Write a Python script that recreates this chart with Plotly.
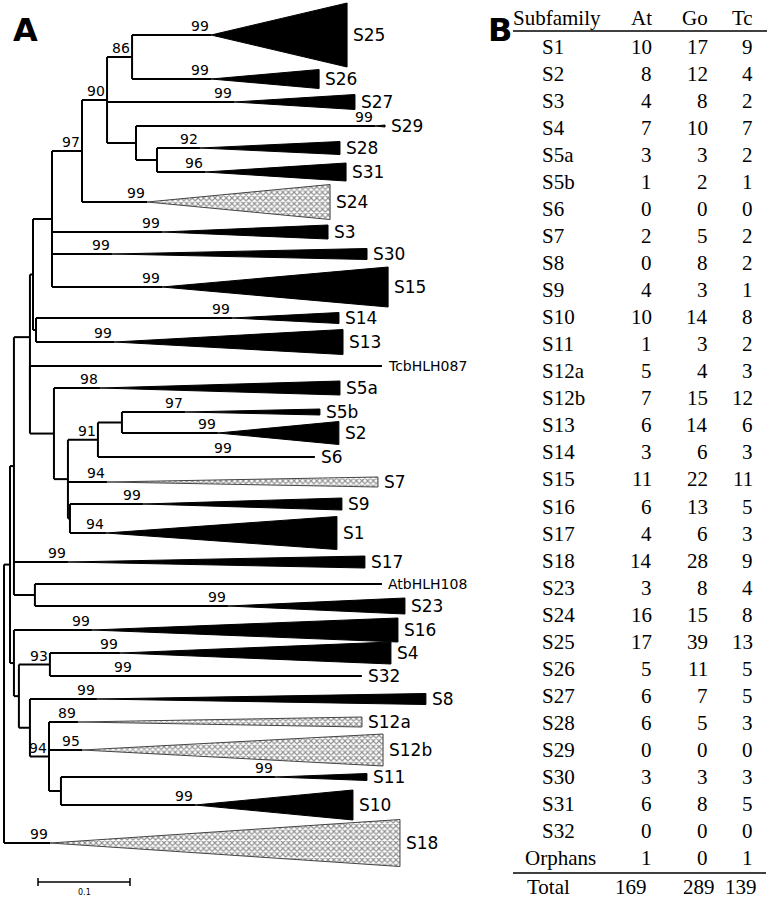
import plotly.graph_objects as go

W, H = 771, 899
PX_PER_UNIT = 920.0   # the 0.1 scale bar spans 92 px
ROOT_PX = 4.0

# ---- panel A: tree of bHLH subfamilies ----
# internal nodes; branch lengths in substitutions per site
node_names = ["root", "R", "J", "I", "G", "A", "T", "U", "V", "W", "X", "H", "I2",
              "B", "C", "D", "F", "E", "Q", "P", "O", "K", "N", "L", "M"]
node_parent = [None, "root", "R", "J", "I", "G", "A", "T", "U", "U", "W", "G", "I",
               "I2", "B", "C", "D", "C", "J", "R", "P", "O", "O", "N", "L"]
node_branch = [0, 0.0065, 0.0043, 0.0174, 0.0033, 0.0207, 0.0326, 0.0272, 0.0272, 0.0315,
               0.0228, 0.0033, 0.0, 0.0261, 0.0152, 0.0326, 0.0261, 0.0022, 0.0228, 0.0043,
               0.0054, 0.0337, 0.0120, 0.0207, 0.0130]
node_support = {"V": 86, "U": 90, "T": 97, "D": 91, "K": 93, "L": 94}

# collapsed subfamilies, top to bottom
leaf_names = ["S25", "S26", "S27", "S29", "S28", "S31", "S24", "S3", "S30", "S15", "S14",
              "S13", "TcbHLH087", "S5a", "S5b", "S2", "S6", "S7", "S9", "S1", "S17",
              "AtbHLH108", "S23", "S16", "S4", "S32", "S8", "S12a", "S12b", "S11", "S10", "S18"]
leaf_parent = ["V", "V", "U", "W", "X", "X", "T", "A", "A", "A", "H", "H", "I2", "B", "F",
               "F", "D", "C", "E", "E", "J", "Q", "Q", "P", "K", "K", "N", "L", "L", "M", "M",
               "root"]
leaf_pos = [35, 79, 102, 126, 148, 172, 202, 232, 254, 287, 318, 342, 366, 388, 412, 433,
            457, 482, 504, 533, 562, 584, 606, 630, 653, 676, 699, 722, 750, 777, 805, 843]
leaf_stem = [0.0859, 0.0859, 0.1380, 0.2598, 0.0467, 0.0522, 0.0707, 0.1196, 0.0652, 0.1196,
             0.2130, 0.0848, 0.3826, 0.0500, 0.0685, 0.1043, 0.1478, 0.0424, 0.0793, 0.0391,
             0.0587, 0.3772, 0.2098, 0.0848, 0.0761, 0.0913, 0.0728, 0.0315, 0.0359, 0.2326,
             0.1457, 0.0500]
leaf_depth = [0.1478, 0.1174, 0.1315, 0.0109, 0.1522, 0.1533, 0.1989, 0.1804, 0.2772, 0.2457,
              0.1163, 0.2489, 0.0, 0.2609, 0.1467, 0.1315, 0.0880, 0.2946, 0.2163, 0.2511,
              0.3228, 0.0, 0.1924, 0.3326, 0.2946, 0.2478, 0.3576, 0.3087, 0.3272, 0.1000,
              0.1717, 0.3804]
leaf_half = [32, 9.5, 7.5, 1, 6.5, 9, 17.5, 7, 5.5, 20, 5.5, 12.5, 0, 7, 3, 11.5, 0, 5, 6,
             16.5, 6, 0, 8, 12, 11, 0, 5.5, 5, 16, 3.5, 15, 23.5]
leaf_style = ["solid", "solid", "solid", "solid", "solid", "solid", "hatch", "solid", "solid",
              "solid", "solid", "solid", "line", "solid", "solid", "solid", "line", "hatch",
              "solid", "solid", "solid", "line", "solid", "solid", "solid", "line", "solid",
              "hatch", "hatch", "solid", "solid", "hatch"]
leaf_support = [99, 99, 99, 99, 92, 96, 99, 99, 99, 99, 99, 99, None, 98, 97, 99, 99, 94, 99,
                94, 99, None, 99, 99, 99, 99, 99, 89, 95, 99, 99, 99]

# ---- panel B: gene counts per subfamily ----
subfamilies = ["S1", "S2", "S3", "S4", "S5a", "S5b", "S6", "S7", "S8", "S9", "S10", "S11",
               "S12a", "S12b", "S13", "S14", "S15", "S16", "S17", "S18", "S23", "S24", "S25",
               "S26", "S27", "S28", "S29", "S30", "S31", "S32", "Orphans"]
count_at = [10, 8, 4, 7, 3, 1, 0, 2, 0, 4, 10, 1, 5, 7, 6, 3, 11, 6, 4, 14, 3, 16, 17, 5, 6,
            6, 0, 3, 6, 0, 1]
count_go = [17, 12, 8, 10, 3, 2, 0, 5, 8, 3, 14, 3, 4, 15, 14, 6, 22, 13, 6, 28, 8, 15, 39,
            11, 7, 5, 0, 3, 8, 0, 0]
count_tc = [9, 4, 2, 7, 2, 1, 0, 2, 2, 1, 8, 2, 3, 12, 6, 3, 11, 5, 3, 9, 4, 8, 13, 5, 5, 3,
            0, 3, 5, 0, 1]

# ---- tree layout ----
parent_of = dict(zip(node_names, node_parent))
node_x = {}
for name, par, bl in zip(node_names, node_parent, node_branch):
    node_x[name] = 0.0 if par is None else node_x[par] + bl

children = {n: [] for n in node_names}
for n, p in zip(node_names, node_parent):
    if p is not None:
        children[p].append(("node", n))
for i, p in enumerate(leaf_parent):
    children[p].append(("leaf", i))

node_y = {}


def get_y(kind, key):
    if kind == "leaf":
        return leaf_pos[key]
    if key not in node_y:
        ys = [get_y(k, c) for k, c in children[key]]
        node_y[key] = (min(ys) + max(ys)) / 2
    return node_y[key]


for n in node_names:
    get_y("node", n)

lx, ly = [], []
for n in node_names:
    ys = [get_y(k, c) for k, c in children[n]]
    lx += [node_x[n], node_x[n], None]
    ly += [min(ys), max(ys), None]
    p = parent_of[n]
    if p is not None:
        lx += [node_x[p], node_x[n], None]
        ly += [node_y[n], node_y[n], None]

solid_x, solid_y, hatch_x, hatch_y = [], [], [], []
leaf_tip = []
leaf_apex = []
for i, name in enumerate(leaf_names):
    x0 = node_x[leaf_parent[i]]
    apex = x0 + leaf_stem[i]
    tip = apex + leaf_depth[i]
    y = leaf_pos[i]
    leaf_apex.append(apex)
    leaf_tip.append(tip)
    if leaf_half[i] == 0:
        lx += [x0, tip, None]
        ly += [y, y, None]
        continue
    lx += [x0, apex, None]
    ly += [y, y, None]
    h = leaf_half[i]
    px_ = [apex, tip, tip, apex, None]
    py_ = [y, y - h, y + h, y, None]
    if leaf_style[i] == "hatch":
        hatch_x += px_
        hatch_y += py_
    else:
        solid_x += px_
        solid_y += py_

fig = go.Figure()
fig.add_trace(go.Scatter(x=lx, y=ly, mode="lines", line=dict(color="black", width=2),
                         hoverinfo="skip", showlegend=False))
fig.add_trace(go.Scatter(x=solid_x, y=solid_y, mode="lines", fill="toself", fillcolor="black",
                         line=dict(color="black", width=1), hoverinfo="skip", showlegend=False))
fig.add_trace(go.Scatter(x=hatch_x, y=hatch_y, mode="lines", fill="toself",
                         fillpattern=dict(shape="x", size=4, solidity=0.5, fgcolor="#222222",
                                          bgcolor="white"),
                         line=dict(color="#444444", width=1), hoverinfo="skip",
                         showlegend=False))

# scale bar
sb0 = (38 - ROOT_PX) / PX_PER_UNIT
sb_len = 0.1
fig.add_trace(go.Scatter(x=[sb0, sb0 + sb_len, None, sb0, sb0, None, sb0 + sb_len, sb0 + sb_len],
                         y=[882, 882, None, 878, 886, None, 878, 886], mode="lines",
                         line=dict(color="black", width=1.5), hoverinfo="skip",
                         showlegend=False))

ann = []
sans = "DejaVu Sans, Verdana, sans-serif"
serif = "Liberation Serif, Times New Roman, serif"

for n, s in node_support.items():
    ann.append(dict(x=node_x[n], y=node_y[n], text=str(s), xshift=-11, yshift=9,
                    xanchor="center", yanchor="middle", showarrow=False,
                    font=dict(family=sans, size=14, color="black")))
for i, name in enumerate(leaf_names):
    if leaf_support[i] is not None:
        ann.append(dict(x=leaf_apex[i], y=leaf_pos[i], text=str(leaf_support[i]), xshift=-11,
                        yshift=9, xanchor="center", yanchor="middle", showarrow=False,
                        font=dict(family=sans, size=14, color="black")))
    small = name.endswith("HLH087") or name.endswith("HLH108")
    ann.append(dict(x=leaf_tip[i], y=leaf_pos[i], text=name, xanchor="left", yanchor="middle",
                    xshift=4, showarrow=False,
                    font=dict(family=sans, size=14 if small else 17, color="black")))
ann.append(dict(x=sb0 + sb_len / 2, y=892, text="0.1", xanchor="center", yanchor="middle",
                showarrow=False, font=dict(family=sans, size=8, color="black")))


def px(x):
    return x / W


def py(y):
    return 1 - y / H


for label, xc in [("A", 25), ("B", 500)]:
    ann.append(dict(xref="paper", yref="paper", x=px(xc), y=py(30), text="<b>%s</b>" % label,
                    xanchor="center", yanchor="middle", showarrow=False,
                    font=dict(family=sans, size=32, color="black")))

tfont = dict(family=serif, size=21, color="black")
header_y = 18
for text, x, anchor in [("Subfamily", 511, "left"), ("At", 654, "right"),
                        ("Go", 710, "right"), ("Tc", 755, "right")]:
    ann.append(dict(xref="paper", yref="paper", x=px(x), y=py(header_y), text=text,
                    xanchor=anchor, yanchor="middle", showarrow=False, font=tfont))

row0, row_step = 47, 27.03
for r, name in enumerate(subfamilies):
    y = py(row0 + r * row_step)
    left = 523 if name == "Orphans" else 540
    ann.append(dict(xref="paper", yref="paper", x=px(left), y=y, text=name, xanchor="left",
                    yanchor="middle", showarrow=False, font=tfont))
    for val, x in [(count_at[r], 654), (count_go[r], 710), (count_tc[r], 755)]:
        ann.append(dict(xref="paper", yref="paper", x=px(x), y=y, text=str(val),
                        xanchor="right", yanchor="middle", showarrow=False, font=tfont))

total_y = py(887)
ann.append(dict(xref="paper", yref="paper", x=px(525), y=total_y, text="Total",
                xanchor="left", yanchor="middle", showarrow=False, font=tfont))
for val, x in [(sum(count_at), 631), (sum(count_go), 699), (sum(count_tc), 741)]:
    ann.append(dict(xref="paper", yref="paper", x=px(x), y=total_y, text=str(val),
                    xanchor="center", yanchor="middle", showarrow=False, font=tfont))

shapes = [
    dict(type="line", xref="paper", yref="paper", x0=px(513), x1=px(767), y0=py(31),
         y1=py(31), line=dict(color="black", width=1.5)),
    dict(type="line", xref="paper", yref="paper", x0=px(513), x1=px(766), y0=py(873),
         y1=py(873), line=dict(color="black", width=1.5)),
]

fig.update_layout(
    width=W, height=H,
    margin=dict(l=0, r=0, t=0, b=0),
    paper_bgcolor="white", plot_bgcolor="white",
    xaxis=dict(range=[-ROOT_PX / PX_PER_UNIT, (W - ROOT_PX) / PX_PER_UNIT], visible=False,
               fixedrange=True),
    yaxis=dict(range=[H, 0], visible=False, fixedrange=True),
    annotations=ann, shapes=shapes,
)

# the page body has a default 8px margin; drop it so the figure fills the window
fig.write_html("out.html", config={"displayModeBar": False},
               post_script="document.body.style.margin='0';")
